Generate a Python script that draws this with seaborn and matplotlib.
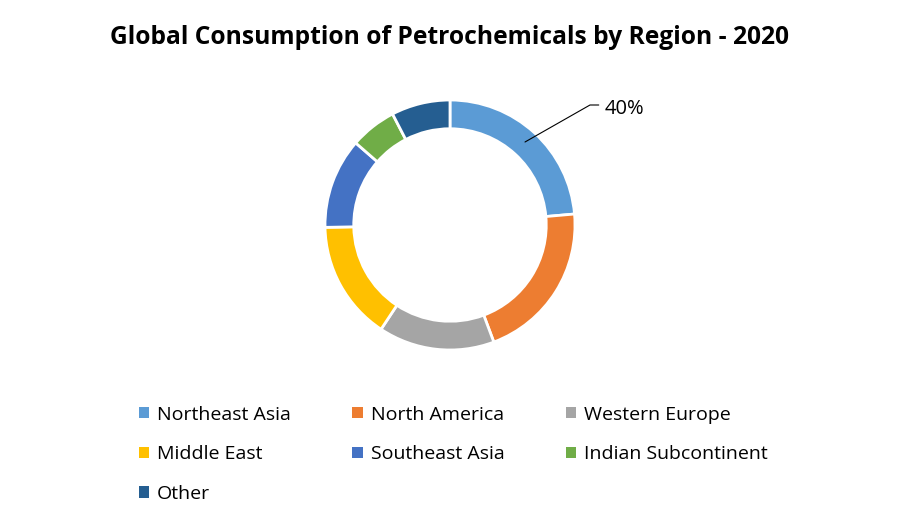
import matplotlib
matplotlib.use("Agg")
import matplotlib.pyplot as plt
import seaborn as sns
from matplotlib.patches import Patch

regions = ["Northeast Asia", "North America", "Western Europe", "Middle East",
           "Southeast Asia", "Indian Subcontinent", "Other"]
shares = [23.6, 20.7, 15.0, 15.4, 11.7, 6.0, 7.6]
colors = ["#5B9BD5", "#ED7D31", "#A5A5A5", "#FFC000", "#4472C4", "#70AD47", "#255E91"]
label_text = "40%"

sns.set_theme(style="white")
plt.rcParams["font.family"] = ["Open Sans", "DejaVu Sans"]
plt.rcParams["text.color"] = "black"
palette = sns.color_palette(colors)

fig = plt.figure(figsize=(9, 5.25), dpi=100)
ax = fig.add_axes([325 / 900, 175 / 525, 250 / 900, 250 / 525])

ax.pie(shares, colors=palette, startangle=90, counterclock=False, radius=1.0,
       wedgeprops=dict(width=0.23, edgecolor="white", linewidth=2))
ax.set_xlim(-1, 1)
ax.set_ylim(-1, 1)
ax.set_aspect("equal")
ax.axis("off")

# leader line + label
ax.plot([0.6, 1.12, 1.19], [0.664, 0.96, 0.96], color="black", lw=0.8, clip_on=False)
ax.text(1.24, 0.93, label_text, fontsize=14.5, va="center", ha="left", color="black")

fig.text(0.5, 1 - 38 / 525, "Global Consumption of Petrochemicals by Region - 2020",
         ha="center", va="center", fontsize=17.7, fontweight="bold", color="black")

# legend is filled column by column, so reorder to read row by row
order = [0, 3, 6, 1, 4, 2, 5]
handles = [Patch(facecolor=palette[i], edgecolor="none") for i in order]
labels = [regions[i] for i in order]
fig.legend(handles, labels, ncol=3, loc="upper left",
           bbox_to_anchor=(121 / 900, 1 - 388 / 525), frameon=False,
           fontsize=14, handlelength=0.55, handleheight=0.55, handletextpad=0.4,
           columnspacing=3.15, labelspacing=1.12, labelcolor="black")

fig.savefig("out.png", dpi=100, facecolor="white")
